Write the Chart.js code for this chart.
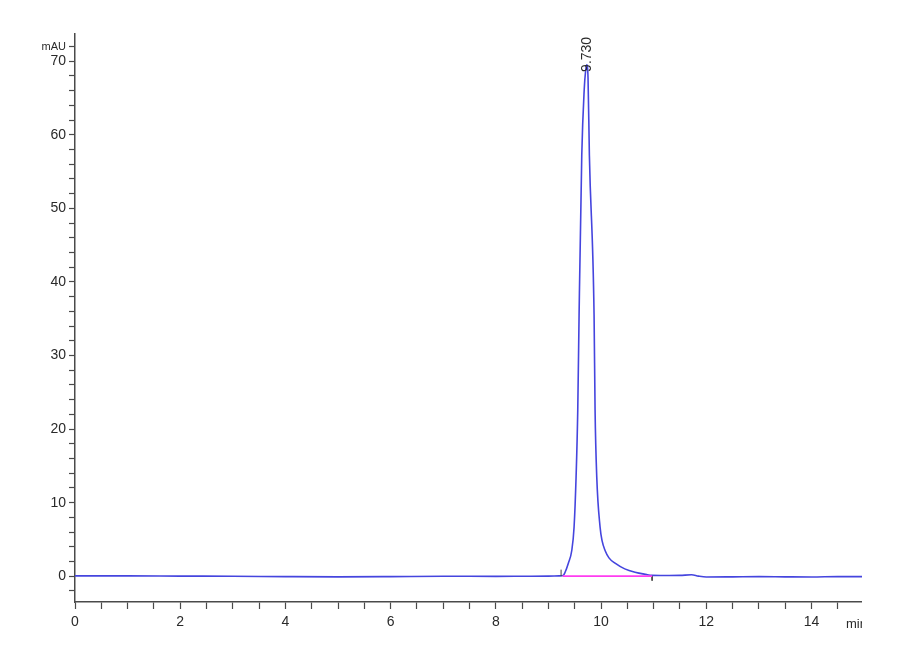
<!DOCTYPE html>
<html lang="en">
<head>
    <meta charset="utf-8" />
    <title>Chromatogram</title>
    <style>
        body {
            margin: 0;
            background: #fff;
        }

        .plot {
            width: 862px;
            height: 660px;
        }
    </style>
</head>
<body>
<div class="plot">
    <canvas id="chrom"></canvas>
</div>
<script src="https://cdn.jsdelivr.net/npm/chart.js@4.4.1/dist/chart.umd.min.js"></script>
<script>
    // retention time (min) and detector signal (mAU)
    const times = [0, 1, 2, 3, 4, 5, 6, 7, 8, 8.5, 9, 9.2, 9.28, 9.316, 9.378, 9.443, 9.487, 9.525, 9.557, 9.582,
        9.633, 9.68, 9.705, 9.728, 9.752, 9.778, 9.867, 9.886, 9.918, 9.981, 10.02, 10.076, 10.15, 10.266, 10.45,
        10.646, 10.85, 10.97, 11.2, 11.5, 11.72, 11.85, 12, 12.5, 13, 13.5, 14, 14.5, 15];
    const signal = [0.05, 0.05, 0.02, 0, -0.05, -0.08, -0.05, 0, -0.02, 0, 0.02, 0.05, 0.1, 0.54, 1.77, 3.5, 6.7, 13.5, 22.6, 35.5,
        57.2, 66.2, 68.6, 69.5, 67.8, 57.2, 35.5, 22.6, 13.5, 6.7, 4.8, 3.5, 2.5, 1.77, 1.0,
        0.54, 0.25, 0.12, 0.1, 0.12, 0.2, 0.02, -0.1, -0.08, -0.05, -0.08, -0.1, -0.05, -0.05];

    // integration baseline and its start / end markers
    const baseTimes = [9.27, 10.97];
    const baseValues = [0.02, 0.02];
    const markTimes = [9.24, 9.24, null, 10.97, 10.97];
    const markValues = [0, 0.9, null, 0, -0.6];

    const peakTime = 9.73;
    const peakHeight = 69.5;
    const peakLabel = '9.730';

    const yUnit = 'mAU';
    const xUnit = 'min';

    const toPoints = (xs, ys) => xs.map((x, i) => (x === null ? { x: NaN, y: NaN } : { x: x, y: ys[i] }));

    const textColor = '#2a2a2a';
    const axisColor = '#4a4a4a';

    // peak label and x unit, placed through the scales
    const annotate = {
        id: 'annotate',
        afterDatasetsDraw(chart) {
            const ctx = chart.ctx;
            const xs = chart.scales.x;
            const ys = chart.scales.y;
            ctx.save();
            ctx.fillStyle = textColor;
            ctx.font = '14px "Liberation Sans", Arial, sans-serif';
            ctx.translate(xs.getPixelForValue(peakTime), ys.getPixelForValue(peakHeight) + 7);
            ctx.rotate(-Math.PI / 2);
            ctx.textAlign = 'left';
            ctx.textBaseline = 'middle';
            ctx.fillText(peakLabel, 0, 0);
            ctx.restore();

            ctx.save();
            ctx.fillStyle = textColor;
            ctx.font = '13px "Liberation Sans", Arial, sans-serif';
            ctx.textAlign = 'left';
            ctx.textBaseline = 'middle';
            ctx.fillText(xUnit, xs.right - 16, xs.bottom - 36);
            ctx.restore();
        }
    };

    new Chart(document.getElementById('chrom'), {
        type: 'line',
        data: {
            datasets: [{
                data: toPoints(baseTimes, baseValues),
                borderColor: '#ff3cf0',
                borderWidth: 1.6,
                pointRadius: 0,
            }, {
                data: toPoints(markTimes, markValues),
                borderColor: '#444',
                borderWidth: 1,
                pointRadius: 0,
                spanGaps: false,
            }, {
                data: toPoints(times, signal),
                borderColor: '#4545de',
                borderWidth: 1.6,
                pointRadius: 0,
                cubicInterpolationMode: 'monotone',
            }],
        },
        options: {
            responsive: true,
            maintainAspectRatio: false,
            animation: false,
            layout: {
                padding: { top: 34, left: 0, right: 0, bottom: 0 },
            },
            plugins: {
                legend: { display: false },
                tooltip: { enabled: false },
            },
            scales: {
                x: {
                    type: 'linear',
                    min: 0,
                    max: 14.96,
                    afterFit: (scale) => { scale.height = 58; },
                    border: { color: axisColor, width: 1.5 },
                    grid: {
                        drawOnChartArea: false,
                        tickLength: 7,
                        tickColor: axisColor,
                        tickWidth: 1.2,
                    },
                    ticks: {
                        stepSize: 0.5,
                        autoSkip: false,
                        maxRotation: 0,
                        includeBounds: false,
                        padding: 5,
                        color: textColor,
                        font: { family: '"Liberation Sans", Arial, sans-serif', size: 14 },
                        callback: (v) => (v % 2 === 0 ? v : ''),
                    },
                },
                y: {
                    type: 'linear',
                    min: -3.5,
                    max: 73.7,
                    afterFit: (scale) => { scale.width = 75; },
                    border: { color: axisColor, width: 1.5 },
                    grid: {
                        drawOnChartArea: false,
                        tickLength: 6,
                        tickColor: axisColor,
                        tickWidth: 1.2,
                    },
                    ticks: {
                        stepSize: 2,
                        autoSkip: false,
                        includeBounds: false,
                        padding: 3,
                        color: textColor,
                        font: (c) => ({
                            family: '"Liberation Sans", Arial, sans-serif',
                            size: c.tick && c.tick.value === 72 ? 11 : 14,
                        }),
                        callback: (v) => (v === 72 ? yUnit : (v % 10 === 0 ? v : '')),
                    },
                },
            },
        },
        plugins: [annotate],
    });
</script>
</body>
</html>
